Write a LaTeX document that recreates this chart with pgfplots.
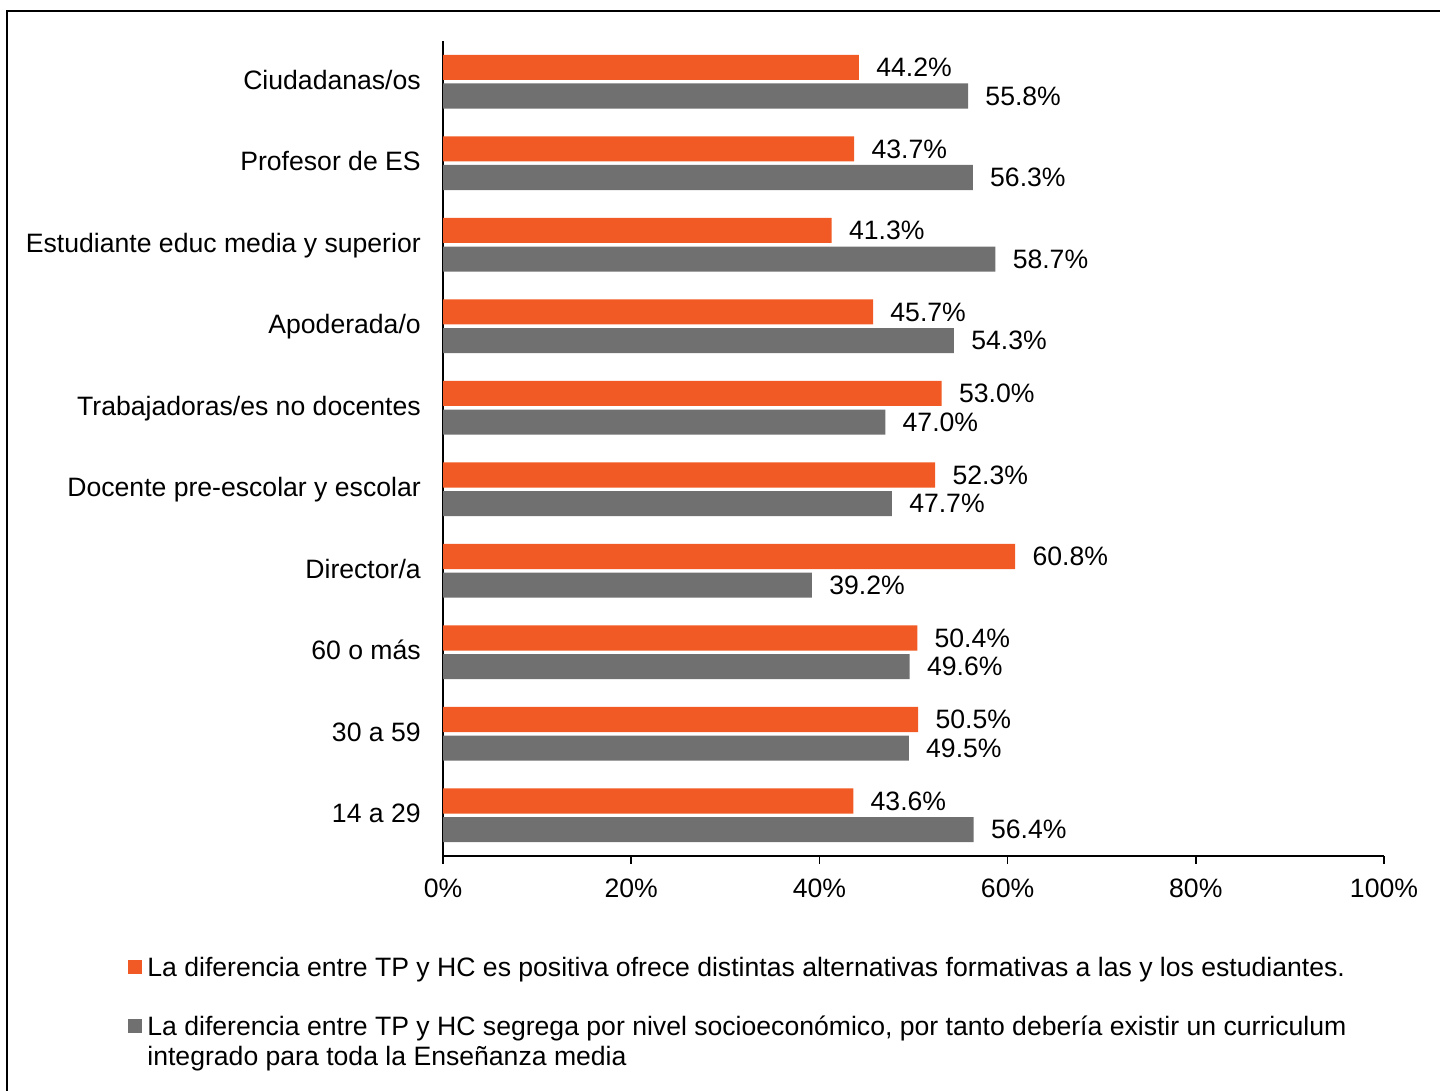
\documentclass[border=0pt]{standalone}
\usepackage{fontspec}
\setmainfont{Liberation Sans}
\usepackage{pgfplots}
\pgfplotsset{compat=1.18}
\definecolor{orangeC}{RGB}{241,90,36}
\definecolor{grayC}{RGB}{112,112,112}
\begin{document}
\fontsize{13.3}{16}\selectfont
\begin{tikzpicture}
\useasboundingbox (0,0) rectangle (720pt,-545.5pt);
\draw[line width=0.8pt] (3.4pt,-560pt) -- (3.4pt,-5.4pt) -- (740pt,-5.4pt);
\begin{axis}[
 at={(221.5pt,-428pt)}, anchor=south west,
 scale only axis, width=470.5pt, height=407.5pt,
 xmin=0, xmax=100, ymin=-0.5, ymax=9.5,
 axis x line*=bottom, axis y line*=left,
 axis line style={line width=1pt, -},
 xtick={0,20,...,100}, xticklabels={0\%,20\%,40\%,60\%,80\%,100\%},
 ytick={0,...,9},
 yticklabels={14 a 29, 30 a 59, 60 o más, Director/a, Docente pre-escolar y escolar, Trabajadoras/es no docentes, Apoderada/o, Estudiante educ media y superior, Profesor de ES, Ciudadanas/os},
 tick align=outside, major tick length=4pt,
 x tick style={line width=0.8pt, black},
 y tick style={draw=none},
 xticklabel style={yshift=-3pt},
 yticklabel style={xshift=-2.5pt, yshift=-0.5pt, text height=0.75em, text depth=0.25em},
 tick label style={font=\fontsize{13.3}{16}\selectfont},
 xbar, bar width=0.307,
 point meta=x,
 nodes near coords={\pgfmathprintnumber[fixed,fixed zerofill,precision=1]{\pgfplotspointmeta}\%},
 nodes near coords style={anchor=west, inner sep=0pt, xshift=8.5pt, black, font=\fontsize{13.3}{16}\selectfont},
 /pgf/number format/assume math mode=true,
 clip=false,
]
\addplot[fill=orangeC, draw=none, bar shift=0.175] coordinates {(43.6,0) (50.5,1) (50.4,2) (60.8,3) (52.3,4) (53.0,5) (45.7,6) (41.3,7) (43.7,8) (44.2,9)};
\addplot[fill=grayC, draw=none, bar shift=-0.175] coordinates {(56.4,0) (49.5,1) (49.6,2) (39.2,3) (47.7,4) (47.0,5) (54.3,6) (58.7,7) (56.3,8) (55.8,9)};
\end{axis}
\fill[orangeC] (64pt,-480pt) rectangle (71pt,-487pt);
\node[anchor=base west, inner sep=0pt] at (73.5pt,-488pt) {La diferencia entre TP y HC es positiva ofrece distintas alternativas formativas a las y los estudiantes.};
\fill[grayC] (64pt,-509.5pt) rectangle (71pt,-516.5pt);
\node[anchor=base west, inner sep=0pt] at (73.5pt,-517.5pt) {La diferencia entre TP y HC segrega por nivel socioeconómico, por tanto debería existir un curriculum};
\node[anchor=base west, inner sep=0pt] at (73.5pt,-532.5pt) {integrado para toda la Enseñanza media};
\end{tikzpicture}
\end{document}
